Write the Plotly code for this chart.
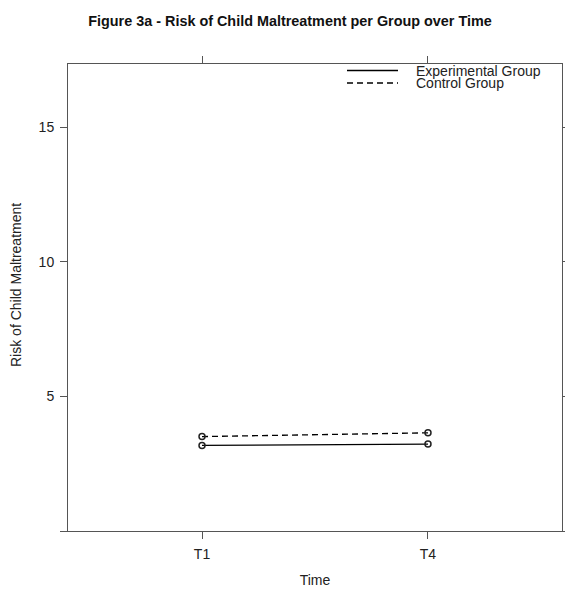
import plotly.graph_objects as go

time_labels = ["T1", "T4"]
experimental = [3.18, 3.23]
control = [3.51, 3.65]
y_ticks = [0, 5, 10, 15]
y_tick_text = ["", "5", "10", "15"]

W, H = 565, 594
L, R, T, B = 68, 3, 64, 63

fig = go.Figure()
xs = [1, 2]
fig.add_trace(go.Scatter(x=xs, y=experimental, mode="lines+markers", name="Experimental Group",
                         line=dict(color="black", width=1.3),
                         marker=dict(symbol="circle-open", size=6, color="#222", line=dict(width=1.5))))
fig.add_trace(go.Scatter(x=xs, y=control, mode="lines+markers", name="Control Group",
                         line=dict(color="black", width=1.3, dash="6px,4px"),
                         marker=dict(symbol="circle-open", size=6, color="#222", line=dict(width=1.5))))

axis_col = "#555"
fig.update_xaxes(range=[0.407, 2.593], tickvals=xs, ticktext=time_labels, automargin=False,
                 showline=True, linecolor=axis_col, linewidth=1, mirror="allticks",
                 ticks="outside", ticklen=7, tickcolor=axis_col, showgrid=False, zeroline=False,
                 ticklabelstandoff=3,
                 tickfont=dict(family="Liberation Sans, Arial", size=14, color="#222"),
                 title=dict(text="Time", font=dict(family="Liberation Sans, Arial", size=14, color="#222"), standoff=14))
fig.update_yaxes(range=[0, 17.36], tickvals=y_ticks, ticktext=y_tick_text, automargin=False,
                 showline=True, linecolor=axis_col, linewidth=1, mirror="allticks",
                 ticks="outside", ticklen=7, tickcolor=axis_col, showgrid=False, zeroline=False,
                 ticklabelstandoff=3,
                 tickfont=dict(family="Liberation Sans, Arial", size=14, color="#222"))

pw, ph = W - L - R, H - T - B
def px(x):
    return (x - L) / pw
def py(y):
    return 1 - (y - T) / ph

# y axis title
fig.add_annotation(text="Risk of Child Maltreatment", xref="paper", yref="paper",
                   x=px(16), xanchor="center",
                   y=py(285), yanchor="middle", textangle=-90, showarrow=False,
                   font=dict(family="Liberation Sans, Arial", size=14, color="#222"))

# legend (drawn manually in the key's position)
legend_items = [("Experimental Group", 70.5, "solid"), ("Control Group", 83, "dash")]
for text, yy, dash in legend_items:
    fig.add_shape(type="line", xref="paper", yref="paper", x0=px(347), x1=px(398), y0=py(yy), y1=py(yy),
                  line=dict(color="black", width=1.3, dash="6px,4px" if dash == "dash" else "solid"))
    fig.add_annotation(text=text, xref="paper", yref="paper", x=px(415), y=py(yy), xanchor="left",
                       yanchor="middle", showarrow=False, borderpad=0,
                       font=dict(family="Liberation Sans, Arial", size=14, color="#222"))

fig.update_layout(
    width=W, height=H, margin=dict(l=L, r=R, t=T, b=B, autoexpand=False),
    plot_bgcolor="white", paper_bgcolor="white", showlegend=False,
    title=dict(text="<b>Figure 3a - Risk of Child Maltreatment per Group over Time</b>",
               x=290 / W, xanchor="center", y=1 - 21 / H, yanchor="middle",
               font=dict(family="Liberation Sans, Arial", size=14.4, color="#111")),
)
fig.write_html("out.html", config={"responsive": False, "displayModeBar": False},
               post_script="document.body.style.margin='0';document.body.style.overflow='hidden';")
